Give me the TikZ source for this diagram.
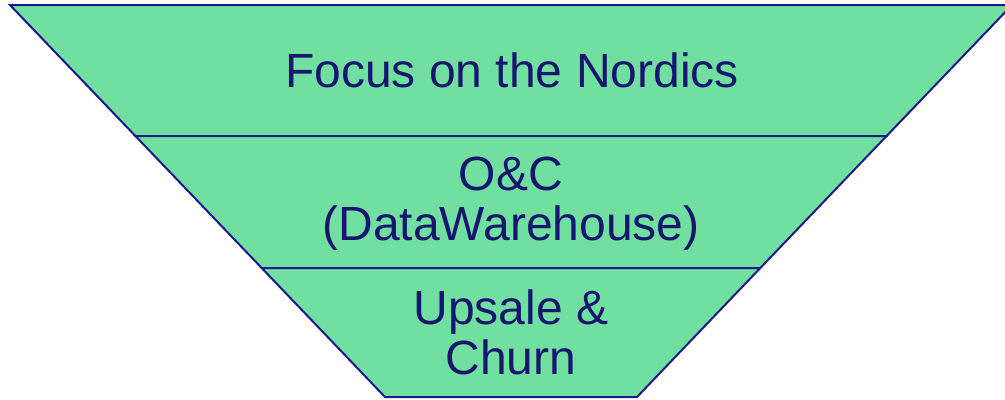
\documentclass[tikz,border=0pt]{standalone}
\usepackage{fontspec}
\setmainfont{Liberation Sans}
\definecolor{funfill}{HTML}{71DFA0}
\definecolor{funline}{HTML}{1A1A8C}
\definecolor{funtext}{HTML}{16166E}
\tikzset{
  seg/.style={fill=funfill, draw=funline, line width=2bp, line join=miter},
  lbl/.style={text=funtext, align=center, font=\fontsize{48bp}{50bp}\selectfont, inner sep=0pt}
}
\begin{document}
\begin{tikzpicture}[x=1bp,y=-1bp]
\useasboundingbox (0,0) rectangle (1005,399);
\clip (0,0) rectangle (1005,399);
% funnel: left edge (10,5)->(385,397), right edge (1012,5)->(637,397)
\coordinate (tl) at (10,5);
\coordinate (tr) at (1012,5);
\coordinate (bl) at (385,397);
\coordinate (br) at (637,397);
\coordinate (m1l) at (135.4,136);
\coordinate (m1r) at (886.6,136);
\coordinate (m2l) at (261.7,268);
\coordinate (m2r) at (760.3,268);
\path[seg] (tl) -- (tr) -- (m1r) -- (m1l) -- cycle;
\path[seg] (m1l) -- (m1r) -- (m2r) -- (m2l) -- cycle;
\path[seg] (m2l) -- (m2r) -- (br) -- (bl) -- cycle;
\node[lbl] (t1) at (512,70) {Focus on the Nordics};
\node[lbl] (t2) at (511,204) {O\&C\\(DataWarehouse)};
\node[lbl] (t3) at (511,332) {Upsale \&\\Churn};
\end{tikzpicture}
\end{document}
